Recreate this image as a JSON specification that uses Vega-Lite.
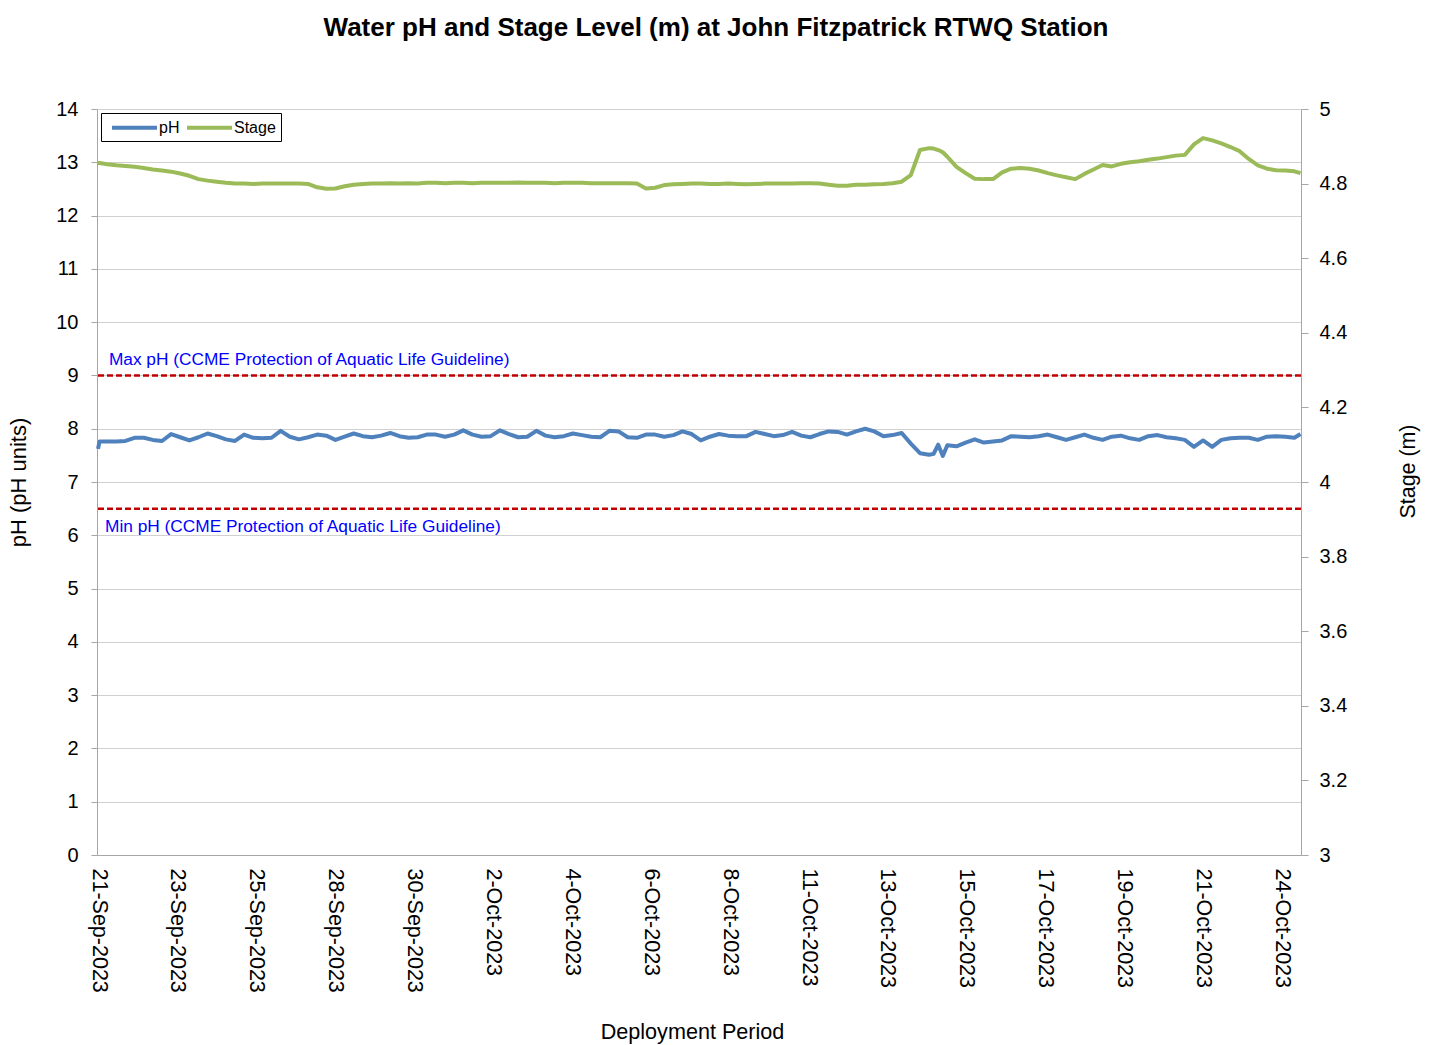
{
"$schema": "https://vega.github.io/schema/vega-lite/v6.json",
"width": 1204,
"height": 746,
"autosize": {"type": "none"},
"padding": {"left": 97, "top": 109, "right": 133, "bottom": 190},
"background": "#ffffff",
"config": {"view": {"stroke": null}, "font": "Liberation Sans"},
"title": {"text": "Water pH and Stage Level (m) at John Fitzpatrick RTWQ Station", "fontSize": 26, "fontWeight": "bold", "color": "#000000", "anchor": "middle", "offset": 58, "dx": 17, "font": "Liberation Sans"},
"datasets": {
"series": [
{"t":"2023-09-21T15:00","pH":7.62,"Stage":4.855},
{"t":"2023-09-21T16:00","pH":7.76,"Stage":4.855},
{"t":"2023-09-21T21:00","pH":7.76,"Stage":4.852},
{"t":"2023-09-22T03:00","pH":7.76,"Stage":4.849},
{"t":"2023-09-22T09:00","pH":7.77,"Stage":4.847},
{"t":"2023-09-22T15:00","pH":7.83,"Stage":4.845},
{"t":"2023-09-22T21:00","pH":7.83,"Stage":4.842},
{"t":"2023-09-23T03:00","pH":7.79,"Stage":4.838},
{"t":"2023-09-23T09:00","pH":7.77,"Stage":4.835},
{"t":"2023-09-23T15:00","pH":7.90,"Stage":4.832},
{"t":"2023-09-23T21:00","pH":7.84,"Stage":4.827},
{"t":"2023-09-24T03:00","pH":7.78,"Stage":4.821},
{"t":"2023-09-24T09:00","pH":7.84,"Stage":4.812},
{"t":"2023-09-24T15:00","pH":7.91,"Stage":4.808},
{"t":"2023-09-24T21:00","pH":7.86,"Stage":4.805},
{"t":"2023-09-25T03:00","pH":7.80,"Stage":4.802},
{"t":"2023-09-25T09:00","pH":7.77,"Stage":4.800},
{"t":"2023-09-25T15:00","pH":7.89,"Stage":4.800},
{"t":"2023-09-25T21:00","pH":7.83,"Stage":4.799},
{"t":"2023-09-26T03:00","pH":7.82,"Stage":4.800},
{"t":"2023-09-26T09:00","pH":7.83,"Stage":4.800},
{"t":"2023-09-26T15:00","pH":7.96,"Stage":4.800},
{"t":"2023-09-26T21:00","pH":7.85,"Stage":4.800},
{"t":"2023-09-27T03:00","pH":7.80,"Stage":4.800},
{"t":"2023-09-27T09:00","pH":7.84,"Stage":4.799},
{"t":"2023-09-27T15:00","pH":7.89,"Stage":4.790},
{"t":"2023-09-27T21:00","pH":7.87,"Stage":4.786},
{"t":"2023-09-28T03:00","pH":7.79,"Stage":4.787},
{"t":"2023-09-28T09:00","pH":7.85,"Stage":4.793},
{"t":"2023-09-28T15:00","pH":7.91,"Stage":4.797},
{"t":"2023-09-28T21:00","pH":7.86,"Stage":4.799},
{"t":"2023-09-29T03:00","pH":7.84,"Stage":4.800},
{"t":"2023-09-29T09:00","pH":7.87,"Stage":4.800},
{"t":"2023-09-29T15:00","pH":7.92,"Stage":4.801},
{"t":"2023-09-29T21:00","pH":7.86,"Stage":4.800},
{"t":"2023-09-30T03:00","pH":7.83,"Stage":4.801},
{"t":"2023-09-30T09:00","pH":7.84,"Stage":4.800},
{"t":"2023-09-30T15:00","pH":7.89,"Stage":4.802},
{"t":"2023-09-30T21:00","pH":7.89,"Stage":4.802},
{"t":"2023-10-01T03:00","pH":7.85,"Stage":4.801},
{"t":"2023-10-01T09:00","pH":7.89,"Stage":4.802},
{"t":"2023-10-01T15:00","pH":7.97,"Stage":4.802},
{"t":"2023-10-01T21:00","pH":7.89,"Stage":4.801},
{"t":"2023-10-02T03:00","pH":7.85,"Stage":4.802},
{"t":"2023-10-02T09:00","pH":7.86,"Stage":4.802},
{"t":"2023-10-02T15:00","pH":7.97,"Stage":4.802},
{"t":"2023-10-02T21:00","pH":7.90,"Stage":4.802},
{"t":"2023-10-03T03:00","pH":7.84,"Stage":4.803},
{"t":"2023-10-03T09:00","pH":7.85,"Stage":4.802},
{"t":"2023-10-03T15:00","pH":7.96,"Stage":4.802},
{"t":"2023-10-03T21:00","pH":7.87,"Stage":4.802},
{"t":"2023-10-04T03:00","pH":7.84,"Stage":4.801},
{"t":"2023-10-04T09:00","pH":7.86,"Stage":4.802},
{"t":"2023-10-04T15:00","pH":7.91,"Stage":4.802},
{"t":"2023-10-04T21:00","pH":7.88,"Stage":4.802},
{"t":"2023-10-05T03:00","pH":7.85,"Stage":4.801},
{"t":"2023-10-05T09:00","pH":7.84,"Stage":4.801},
{"t":"2023-10-05T15:00","pH":7.96,"Stage":4.801},
{"t":"2023-10-05T21:00","pH":7.95,"Stage":4.801},
{"t":"2023-10-06T03:00","pH":7.84,"Stage":4.801},
{"t":"2023-10-06T09:00","pH":7.83,"Stage":4.800},
{"t":"2023-10-06T15:00","pH":7.89,"Stage":4.787},
{"t":"2023-10-06T21:00","pH":7.89,"Stage":4.789},
{"t":"2023-10-07T03:00","pH":7.85,"Stage":4.796},
{"t":"2023-10-07T09:00","pH":7.88,"Stage":4.798},
{"t":"2023-10-07T15:00","pH":7.95,"Stage":4.799},
{"t":"2023-10-07T21:00","pH":7.90,"Stage":4.800},
{"t":"2023-10-08T03:00","pH":7.78,"Stage":4.800},
{"t":"2023-10-08T09:00","pH":7.85,"Stage":4.799},
{"t":"2023-10-08T15:00","pH":7.90,"Stage":4.799},
{"t":"2023-10-08T21:00","pH":7.87,"Stage":4.800},
{"t":"2023-10-09T03:00","pH":7.86,"Stage":4.799},
{"t":"2023-10-09T09:00","pH":7.86,"Stage":4.798},
{"t":"2023-10-09T15:00","pH":7.94,"Stage":4.799},
{"t":"2023-10-09T21:00","pH":7.90,"Stage":4.800},
{"t":"2023-10-10T03:00","pH":7.86,"Stage":4.800},
{"t":"2023-10-10T09:00","pH":7.88,"Stage":4.800},
{"t":"2023-10-10T15:00","pH":7.94,"Stage":4.800},
{"t":"2023-10-10T21:00","pH":7.87,"Stage":4.801},
{"t":"2023-10-11T03:00","pH":7.84,"Stage":4.801},
{"t":"2023-10-11T09:00","pH":7.90,"Stage":4.800},
{"t":"2023-10-11T15:00","pH":7.95,"Stage":4.797},
{"t":"2023-10-11T21:00","pH":7.94,"Stage":4.794},
{"t":"2023-10-12T03:00","pH":7.89,"Stage":4.794},
{"t":"2023-10-12T09:00","pH":7.95,"Stage":4.797},
{"t":"2023-10-12T15:00","pH":8.00,"Stage":4.797},
{"t":"2023-10-12T21:00","pH":7.95,"Stage":4.798},
{"t":"2023-10-13T03:00","pH":7.86,"Stage":4.799},
{"t":"2023-10-13T09:00","pH":7.88,"Stage":4.801},
{"t":"2023-10-13T15:00","pH":7.92,"Stage":4.805},
{"t":"2023-10-13T21:00","pH":7.72,"Stage":4.823},
{"t":"2023-10-14T03:00","pH":7.54,"Stage":4.890},
{"t":"2023-10-14T09:00","pH":7.51,"Stage":4.895},
{"t":"2023-10-14T12:00","pH":7.53,"Stage":4.894},
{"t":"2023-10-14T15:00","pH":7.70,"Stage":4.890},
{"t":"2023-10-14T18:00","pH":7.49,"Stage":4.884},
{"t":"2023-10-14T21:00","pH":7.69,"Stage":4.872},
{"t":"2023-10-15T03:00","pH":7.67,"Stage":4.845},
{"t":"2023-10-15T09:00","pH":7.74,"Stage":4.828},
{"t":"2023-10-15T15:00","pH":7.80,"Stage":4.813},
{"t":"2023-10-15T21:00","pH":7.74,"Stage":4.812},
{"t":"2023-10-16T03:00","pH":7.76,"Stage":4.812},
{"t":"2023-10-16T09:00","pH":7.78,"Stage":4.830},
{"t":"2023-10-16T15:00","pH":7.86,"Stage":4.840},
{"t":"2023-10-16T21:00","pH":7.85,"Stage":4.842},
{"t":"2023-10-17T03:00","pH":7.84,"Stage":4.840},
{"t":"2023-10-17T09:00","pH":7.86,"Stage":4.835},
{"t":"2023-10-17T15:00","pH":7.89,"Stage":4.828},
{"t":"2023-10-17T21:00","pH":7.84,"Stage":4.822},
{"t":"2023-10-18T03:00","pH":7.79,"Stage":4.817},
{"t":"2023-10-18T09:00","pH":7.84,"Stage":4.812},
{"t":"2023-10-18T15:00","pH":7.89,"Stage":4.826},
{"t":"2023-10-18T21:00","pH":7.83,"Stage":4.838},
{"t":"2023-10-19T03:00","pH":7.79,"Stage":4.850},
{"t":"2023-10-19T09:00","pH":7.85,"Stage":4.846},
{"t":"2023-10-19T15:00","pH":7.87,"Stage":4.853},
{"t":"2023-10-19T21:00","pH":7.82,"Stage":4.857},
{"t":"2023-10-20T03:00","pH":7.79,"Stage":4.860},
{"t":"2023-10-20T09:00","pH":7.86,"Stage":4.864},
{"t":"2023-10-20T15:00","pH":7.88,"Stage":4.867},
{"t":"2023-10-20T21:00","pH":7.84,"Stage":4.871},
{"t":"2023-10-21T03:00","pH":7.82,"Stage":4.875},
{"t":"2023-10-21T09:00","pH":7.79,"Stage":4.877},
{"t":"2023-10-21T15:00","pH":7.66,"Stage":4.905},
{"t":"2023-10-21T21:00","pH":7.78,"Stage":4.922},
{"t":"2023-10-22T03:00","pH":7.66,"Stage":4.916},
{"t":"2023-10-22T09:00","pH":7.79,"Stage":4.908},
{"t":"2023-10-22T15:00","pH":7.82,"Stage":4.898},
{"t":"2023-10-22T21:00","pH":7.83,"Stage":4.887},
{"t":"2023-10-23T03:00","pH":7.83,"Stage":4.866},
{"t":"2023-10-23T09:00","pH":7.79,"Stage":4.849},
{"t":"2023-10-23T15:00","pH":7.85,"Stage":4.840},
{"t":"2023-10-23T21:00","pH":7.86,"Stage":4.836},
{"t":"2023-10-24T03:00","pH":7.85,"Stage":4.835},
{"t":"2023-10-24T09:00","pH":7.83,"Stage":4.833},
{"t":"2023-10-24T13:00","pH":7.90,"Stage":4.828}
],
"limits": [
{"limit": 9, "label": "Max pH (CCME Protection of Aquatic Life Guideline)"},
{"limit": 6.5, "label": "Min pH (CCME Protection of Aquatic Life Guideline)"}
]
},
"layer": [
{
"layer": [
{
"data": {"name": "series"},
"mark": {"type": "line", "strokeWidth": 4, "strokeJoin": "round"},
"encoding": {
"x": {"field": "t", "type": "temporal",
"scale": {"domain": [{"year": 2023, "month": 9, "date": 21, "hours": 14, "minutes": 20}, {"year": 2023, "month": 10, "date": 24, "hours": 13, "minutes": 20}]},
"axis": {"title": "Deployment Period", "format": "%-d-%b-%Y", "labelAngle": 90, "labelFontSize": 21.5, "labelColor": "#000000", "ticks": false, "labelPadding": 13, "grid": false, "domainColor": "#A6A6A6", "domainWidth": 1, "titleFontSize": 21.6, "titleFontWeight": "normal", "titleColor": "#000000", "titlePadding": 29, "titleX": 595, "labelOverlap": false, "labelBound": false, "labelFlush": false,
"values": [
{"year": 2023, "month": 9, "date": 21, "hours": 15, "minutes": 0},
{"year": 2023, "month": 9, "date": 23, "hours": 18, "minutes": 50},
{"year": 2023, "month": 9, "date": 25, "hours": 22, "minutes": 40},
{"year": 2023, "month": 9, "date": 28, "hours": 2, "minutes": 30},
{"year": 2023, "month": 9, "date": 30, "hours": 6, "minutes": 20},
{"year": 2023, "month": 10, "date": 2, "hours": 10, "minutes": 10},
{"year": 2023, "month": 10, "date": 4, "hours": 14, "minutes": 0},
{"year": 2023, "month": 10, "date": 6, "hours": 17, "minutes": 50},
{"year": 2023, "month": 10, "date": 8, "hours": 21, "minutes": 40},
{"year": 2023, "month": 10, "date": 11, "hours": 1, "minutes": 30},
{"year": 2023, "month": 10, "date": 13, "hours": 5, "minutes": 20},
{"year": 2023, "month": 10, "date": 15, "hours": 9, "minutes": 10},
{"year": 2023, "month": 10, "date": 17, "hours": 13, "minutes": 0},
{"year": 2023, "month": 10, "date": 19, "hours": 16, "minutes": 50},
{"year": 2023, "month": 10, "date": 21, "hours": 20, "minutes": 40},
{"year": 2023, "month": 10, "date": 24, "hours": 0, "minutes": 30}
]}},
"y": {"field": "pH", "type": "quantitative", "scale": {"domain": [0, 14], "nice": false, "zero": false},
"axis": {"title": "pH (pH units)", "values": [0,1,2,3,4,5,6,7,8,9,10,11,12,13,14], "labelFontSize": 20, "labelColor": "#000000", "tickSize": 6, "tickColor": "#A6A6A6", "domainColor": "#A6A6A6", "grid": true, "gridColor": "#D0D0D0", "labelPadding": 13, "titleFontSize": 22, "titleFontWeight": "normal", "titleColor": "#000000", "titlePadding": 25}},
"color": {"datum": "pH", "type": "nominal",
"scale": {"domain": ["pH", "Stage"], "range": ["#4F81BD", "#9BBB59"]},
"legend": {"title": null, "orient": "none", "legendX": 4, "legendY": 4, "direction": "horizontal", "symbolType": "M-3,0H3", "symbolSize": 225, "symbolOffset": 19, "symbolStrokeWidth": 4, "labelFontSize": 16, "labelColor": "#000000", "strokeColor": "#000000", "fillColor": "#ffffff", "padding": 5, "columnPadding": -1, "labelOffset": 15}}
}
},
{
"data": {"name": "limits"},
"mark": {"type": "rule", "color": "#C00000", "strokeWidth": 2.5, "strokeDash": [6, 3]},
"encoding": {"y": {"field": "limit", "type": "quantitative", "scale": {"domain": [0, 14]}}}
},
{
"data": {"name": "limits"},
"transform": [{"filter": "datum.limit == 9"}],
"mark": {"type": "text", "align": "left", "baseline": "alphabetic", "fontSize": 17.3, "color": "#0000FF", "dy": -10},
"encoding": {
"x": {"datum": {"year": 2023, "month": 9, "date": 21, "hours": 22, "minutes": 10}, "type": "temporal"},
"y": {"field": "limit", "type": "quantitative", "scale": {"domain": [0, 14]}},
"text": {"field": "label"}
}
},
{
"data": {"name": "limits"},
"transform": [{"filter": "datum.limit == 6.5"}],
"mark": {"type": "text", "align": "left", "baseline": "alphabetic", "fontSize": 17.3, "color": "#0000FF", "dy": 23},
"encoding": {
"x": {"datum": {"year": 2023, "month": 9, "date": 21, "hours": 19, "minutes": 35}, "type": "temporal"},
"y": {"field": "limit", "type": "quantitative", "scale": {"domain": [0, 14]}},
"text": {"field": "label"}
}
}
]
},
{
"data": {"name": "series"},
"mark": {"type": "line", "strokeWidth": 4, "strokeJoin": "round"},
"encoding": {
"x": {"field": "t", "type": "temporal"},
"y": {"field": "Stage", "type": "quantitative", "scale": {"domain": [3, 5], "nice": false, "zero": false},
"axis": {"orient": "right", "title": "Stage (m)", "values": [3, 3.2, 3.4, 3.6, 3.8, 4, 4.2, 4.4, 4.6, 4.8, 5], "format": ".1~f", "labelFontSize": 20, "labelColor": "#000000", "tickSize": 7, "tickColor": "#A6A6A6", "domainColor": "#A6A6A6", "grid": false, "labelPadding": 11, "titleFontSize": 21.4, "titleFontWeight": "normal", "titleColor": "#000000", "titleAngle": 270, "titlePadding": 72, "titleY": 362}},
"color": {"datum": "Stage", "type": "nominal"}
}
}
],
"resolve": {"scale": {"y": "independent"}}
}
